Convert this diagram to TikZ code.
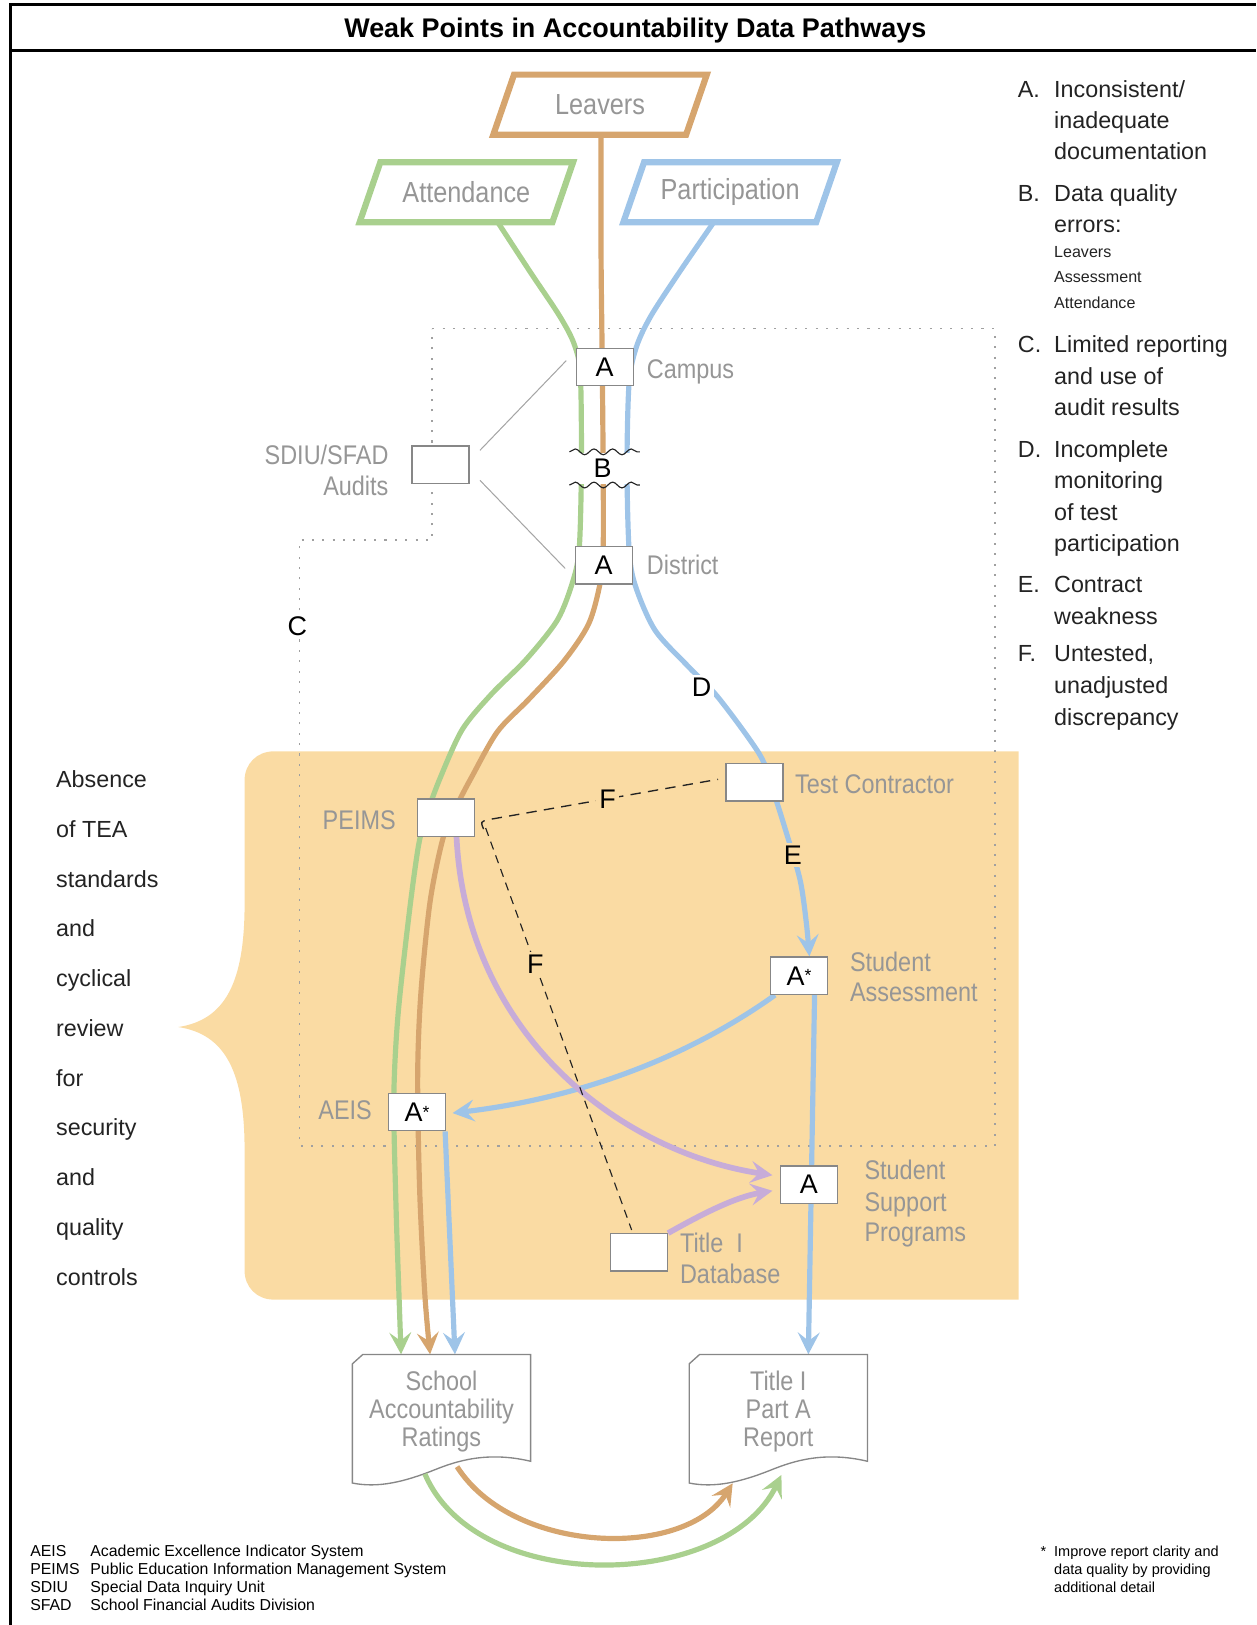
\documentclass[tikz,border=0pt]{standalone}
\usepackage{fontspec}
\setmainfont{Liberation Sans}
\newfontfamily\condf[FakeStretch=0.87]{Liberation Sans}
\usetikzlibrary{arrows.meta,calc,decorations.pathmorphing}
\definecolor{cgreen}{RGB}{169,208,142}
\definecolor{corange}{RGB}{214,165,110}
\definecolor{cblue}{RGB}{158,196,232}
\definecolor{cpurple}{RGB}{199,172,216}
\definecolor{cpeach}{RGB}{250,219,163}
\definecolor{labgray}{RGB}{150,150,150}
\definecolor{boxgray}{RGB}{135,135,135}
\definecolor{dotgray}{RGB}{160,160,160}
\definecolor{thingray}{RGB}{165,165,165}
\definecolor{txtdark}{RGB}{35,35,35}
\pgfdeclarelayer{back}
\pgfdeclarelayer{mid}
\pgfsetlayers{back,mid,main}
\newcommand\fsz[2]{\fontsize{#1}{#2}\selectfont}
\newcommand\pgramshape[5]{%
  \draw[pgline, draw=#2] (#3,#4) ++(-103,29) -- ++(20,-58) -- ++(186,0) -- ++(-20,58) -- cycle;
  \node[pgtext] (#1) at (#3,#4) {#5};}
\newcommand\docshape[2]{%
  \begin{scope}[shift={(#1,#2)}]
  \draw[docl] (-86,-46) -- (-76,-55) -- (86,-55) -- (86,48) .. controls (44,38) and (14,48) .. (-6,56) .. controls (-36,68) and (-61,74) .. (-86,69) -- cycle;
  \end{scope}}
\begin{document}
\begin{tikzpicture}[x=1pt,y=-1pt,
  box/.style={draw=boxgray, fill=white, line width=1.3pt, minimum width=55pt, minimum height=36pt, inner sep=0pt, font=\fsz{26}{26}, text=black},
  glab/.style={text=labgray, font=\condf\fsz{26}{26}, inner sep=0pt},
  pgtext/.style={text=labgray, font=\condf\fsz{28}{28}, inner sep=0pt},
  pgline/.style={line width=6pt, line join=miter, fill=white},
  rte/.style={line width=5pt},
  arrowend/.style={-{Stealth[length=21pt,width=21pt,inset=8pt]}},
  letr/.style={text=black, font=\fsz{26}{26}, inner sep=3pt},
  legt/.style={text=txtdark, font=\fsz{22.5}{22.5}, inner sep=0pt, anchor=base west},
  legs/.style={text=txtdark, font=\fsz{15.5}{15.5}, inner sep=0pt, anchor=base west},
  sidet/.style={text=txtdark, font=\fsz{22.5}{22.5}, inner sep=0pt, anchor=base west},
  foot/.style={text=black, font=\fsz{15.3}{15.3}, inner sep=0pt, anchor=base west},
  foots/.style={text=black, font=\fsz{14}{14}, inner sep=0pt, anchor=base west},
  dotl/.style={draw=dotgray, line width=1.5pt, dash pattern=on 2pt off 8pt},
  fdash/.style={draw=txtdark, line width=1.3pt, dash pattern=on 10pt off 7pt},
  thinl/.style={draw=thingray, line width=1pt},
  wavy/.style={draw=txtdark, line width=1.1pt, decorate, decoration={snake, amplitude=2.8pt, segment length=18pt}},
  docl/.style={draw=boxgray, fill=white, line width=1.3pt},
  doct/.style={text=labgray, font=\condf\fsz{26}{27}, align=center, inner sep=0pt, minimum width=172pt, minimum height=110pt}
]
\useasboundingbox (0,0) rectangle (1212,1568);
% frame
\draw[line width=3pt] (10,1568) -- (10,4.5) -- (1212,4.5);
\draw[line width=3pt] (10,48.5) -- (1212,48.5);
\node[font=\bfseries\fsz{26}{26}, inner sep=0pt] (title) at (613,29) {Weak Points in Accountability Data Pathways};

% background region and dotted boundary
\begin{pgfonlayer}{back}
\fill[cpeach] (983,725) -- (983,1254) -- (264,1254) .. controls (248,1254) and (236,1242) .. (236,1226) -- (236,1110) .. controls (236,1035) and (218,998) .. (172,991) .. controls (218,984) and (236,947) .. (236,872) -- (236,753) .. controls (236,737) and (248,725) .. (264,725) -- cycle;
\draw[dotl] (417,317) -- (960,317) -- (960,1106) -- (289,1106) -- (289,521) -- (417,521) -- cycle;
\end{pgfonlayer}

% sources
\pgramshape{leavers}{corange}{579}{101}{Leavers}
\pgramshape{attend}{cgreen}{450}{185.5}{Attendance}
\pgramshape{partic}{cblue}{704.5}{185.5}{Participation}

% boxes
\node[box] (campus) at (583.5,354) {A};
\node[box] (district) at (582.5,545.5) {A};
\node[box] (sdiu) at (425,448.5) {};
\node[box] (peims) at (430.5,789) {};
\node[box] (tc) at (728,755) {};
\node[box] (sa) at (771,941.5) {A{\fsz{17}{17}\raisebox{3pt}{*}}};
\node[box] (aeis) at (402.5,1073) {A{\fsz{17}{17}\raisebox{3pt}{*}}};
\node[box] (ssp) at (780.5,1143) {A};
\node[box] (tdb) at (616.5,1208.5) {};

% documents
\docshape{426}{1362}
\node[doct] (school) at (426,1362) {School\\Accountability\\Ratings};
\docshape{751}{1362}
\node[doct] (title1) at (751,1362) {Title I\\Part A\\Report};

% gray labels
\node[glab, anchor=base west] (campl) at (624,365) {Campus};
\node[glab, anchor=base west] (distl) at (624,554) {District};
\node[glab, anchor=base east] (sdiul1) at (375,448) {SDIU/SFAD};
\node[glab, anchor=base east] (sdiul2) at (375,478) {Audits};
\node[glab, anchor=base east] (peimsl) at (382,800) {PEIMS};
\node[glab, anchor=base west] (tcl) at (767,766) {Test Contractor};
\node[glab, anchor=base west] (sal1) at (820,937) {Student};
\node[glab, anchor=base west] (sal2) at (820,966) {Assessment};
\node[glab, anchor=base east] (aeisl) at (359,1080) {AEIS};
\node[glab, anchor=base west] (sspl1) at (834,1138) {Student};
\node[glab, anchor=base west] (sspl2) at (834,1169) {Support};
\node[glab, anchor=base west] (sspl3) at (834,1198) {Programs};
\node[glab, anchor=base west] (tdbl1) at (656,1209) {Title\ \ I};
\node[glab, anchor=base west] (tdbl2) at (656,1238) {Database};

% legend
\node[legt] (lgA) at (982,94) {A.};
\node[legt] (lgA1) at (1017,94) {Inconsistent/};
\node[legt] (lgA2) at (1017,124) {inadequate};
\node[legt] (lgA3) at (1017,154) {documentation};
\node[legt] (lgB) at (982,194) {B.};
\node[legt] (lgB1) at (1017,194) {Data quality};
\node[legt] (lgB2) at (1017,224) {errors:};
\node[legs] (lgB3) at (1017,248) {Leavers};
\node[legs] (lgB4) at (1017,273) {Assessment};
\node[legs] (lgB5) at (1017,298) {Attendance};
\node[legt] (lgC) at (982,340) {C.};
\node[legt] (lgC1) at (1017,340) {Limited reporting};
\node[legt] (lgC2) at (1017,371) {and use of};
\node[legt] (lgC3) at (1017,401) {audit results};
\node[legt] (lgD) at (982,441) {D.};
\node[legt] (lgD1) at (1017,441) {Incomplete};
\node[legt] (lgD2) at (1017,471) {monitoring};
\node[legt] (lgD3) at (1017,502) {of test};
\node[legt] (lgD4) at (1017,532) {participation};
\node[legt] (lgE) at (982,572) {E.};
\node[legt] (lgE1) at (1017,572) {Contract};
\node[legt] (lgE2) at (1017,603) {weakness};
\node[legt] (lgF) at (982,638) {F.};
\node[legt] (lgF1) at (1017,638) {Untested,};
\node[legt] (lgF2) at (1017,669) {unadjusted};
\node[legt] (lgF3) at (1017,700) {discrepancy};

% left side text
\foreach \t [count=\i] in {Absence,of TEA,standards,and,cyclical,review,for,security,and,quality,controls}
  \node[sidet] (side\i) at (54,{712+48*\i}) {\t};

% footnotes
\node[foot] (fn1a) at (29,1502) {AEIS};
\node[foot] (fn1b) at (87,1502) {Academic Excellence Indicator System};
\node[foot] (fn2a) at (29,1519) {PEIMS};
\node[foot] (fn2b) at (87,1519) {Public Education Information Management System};
\node[foot] (fn3a) at (29,1537) {SDIU};
\node[foot] (fn3b) at (87,1537) {Special Data Inquiry Unit};
\node[foot] (fn4a) at (29,1554) {SFAD};
\node[foot] (fn4b) at (87,1554) {School Financial Audits Division};
\node[foots] (fs0) at (1004,1502) {*};
\node[foots] (fs1) at (1017,1502) {Improve report clarity and};
\node[foots] (fs2) at (1017,1519) {data quality by providing};
\node[foots] (fs3) at (1017,1537) {additional detail};

% coordinates for routes
\coordinate (gstart) at ($(attend)+(31,30)$);
\coordinate (ostart) at ($(leavers)+(1,29)$);
\coordinate (bstart) at ($(partic)+(-16.5,30)$);
\coordinate (gend) at ($(school.north)+(-39,0)$);
\coordinate (oend) at ($(school.north)+(-11,0)$);
\coordinate (bend) at ($(sa.north)+(10,0)$);

\begin{pgfonlayer}{mid}
\draw[rte, cgreen, arrowend] plot[smooth, tension=0.5] coordinates {(gstart) (512,263) (540,305) (554,332) (560,362) (561,450) (559,528) (553,560) (538,598) (508,636) (474,670) (446,704) (425,750) (412,785) (404,815) (395,880) (384,980) (380,1060) (382,1160) (385,1250) (gend)};
\draw[rte, corange, arrowend] plot[smooth, tension=0.5] coordinates {(ostart) (580,250) (581,340) (582,450) (582,530) (579,563) (568,602) (544,638) (510,675) (480,706) (455,750) (442,775) (428,807) (415,870) (406,960) (403,1040) (405,1150) (410,1250) (oend)};
\draw[rte, cblue, arrowend] plot[smooth, tension=0.5] coordinates {(bstart) (656,262) (628,305) (614,335) (607,370) (605,450) (607,530) (613,565) (632,608) (664,643) (693,673) (733,728) (745,760) (758,801) (772,849) (778,890) (bend)};
\draw[rte, cblue, arrowend] ($(sa.south west)+(5,0)$) .. controls (650,1030) and (540,1062) .. ($(aeis.east)+(6,1)$);
\draw[rte, cblue, arrowend] ($(sa.south)+(15,0)$) -- ($(title1.north)+(29,0)$);
\draw[rte, cblue, arrowend] ($(aeis.south)+(27,0)$) -- ($(school.north)+(13,0)$);
\draw[line width=5.5pt, cpurple, arrowend] ($(peims.south)+(10,0)$) .. controls (450,1000) and (600,1112) .. ($(ssp.west)+(-7,-9)$);
\draw[line width=5.5pt, cpurple, arrowend] (tdb.north east) .. controls (680,1170) and (710,1155) .. ($(ssp.west)+(-7,6)$);
\draw[thinl] ($(sdiu.east)+(10,-14)$) -- ($(campus.west)+(-9,-6)$);
\draw[thinl] ($(sdiu.east)+(10,15)$) -- ($(district.west)+(-9,3)$);
\draw[fdash] ($(peims.east)+(8,11)$) .. controls ($(peims.east)+(5,4)$) .. ($(peims.east)+(12,2)$) -- node[letr, fill=cpeach, pos=0.52] (f1) {F} ($(tc.west)+(-7,-3)$);
\draw[fdash, line width=1.1pt, dash pattern=on 8pt off 6pt] ($(peims.east)+(10,10)$) -- node[letr, fill=cpeach, pos=0.34] (f2) {F} ($(tdb.north)+(-7,-3)$);
\end{pgfonlayer}

% weak-point letters
\node[letr, fill=white, minimum width=70pt, minimum height=30pt, inner sep=0pt] (blab) at (581.5,452) {B};
\draw[wavy] ($(blab)+(-32,-16)$) -- ($(blab)+(36,-16)$);
\draw[wavy] ($(blab)+(-32,16)$) -- ($(blab)+(36,16)$);
\node[letr, fill=white] (clab) at (287,604) {C};
\node[letr, fill=white] (dlab) at (677,663) {D};
\node[letr, fill=cpeach] (elab) at (765,825) {E};

% report-to-report arcs
\draw[rte, corange, arrowend] ($(school.south)+(15,-2)$) .. controls (495,1500) and (660,1505) .. ($(title1.south)+(-44,14)$);
\draw[rte, cgreen, arrowend] ($(school.south)+(-16,5)$) .. controls (460,1540) and (700,1535) .. ($(title1.south)+(3,6)$);
\end{tikzpicture}
\end{document}
